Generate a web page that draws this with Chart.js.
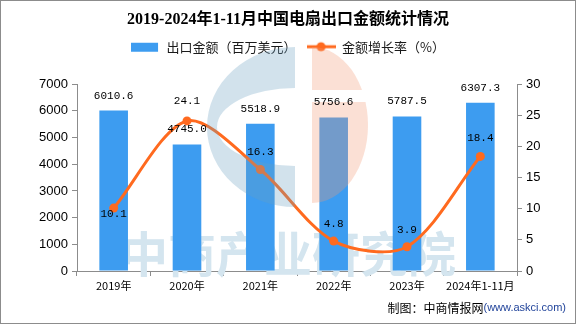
<!DOCTYPE html>
<html>
<head>
<meta charset="utf-8">
<script src="https://cdn.jsdelivr.net/npm/chart.js@4.4.1/dist/chart.umd.min.js"></script>
<style>
  html, body { margin: 0; padding: 0; background: #fff; }
  #wrap { width: 576px; height: 324px; }
</style>
</head>
<body>
<div id="wrap"><canvas id="fanExportChart" width="576" height="324"></canvas></div>
<script>
// 2019-2024年1-11月 电扇出口金额及增长率
const years = ['2019年', '2020年', '2021年', '2022年', '2023年', '2024年1-11月'];
const exportValue = [6010.6, 4745.0, 5518.9, 5756.6, 5787.5, 6307.3];
const growthRate = [10.1, 24.1, 16.3, 4.8, 3.9, 18.4];
const valueTicks = [0, 1000, 2000, 3000, 4000, 5000, 6000, 7000];
const rateTicks = [0, 5, 10, 15, 20, 25, 30];

const BAR_BLUE = '#3d9cf0';
const LINE_ORANGE = '#ff6a1f';
const AXIS_GRAY = '#8c8c8c';
const CJK = "'Noto Sans CJK SC', sans-serif";

// rate labels sit above their points, the first one a little below
const rateLabelShift = [6, -20, -17, -17, -17, -18];

function legendSwatch(kind) {
  const c = document.createElement('canvas');
  c.width = 29;
  c.height = 12;
  const g = c.getContext('2d');
  if (kind === 'bar') {
    g.fillStyle = BAR_BLUE;
    g.fillRect(0, 2, 27, 9);
  } else {
    g.strokeStyle = LINE_ORANGE;
    g.lineWidth = 3;
    g.beginPath();
    g.moveTo(0, 6);
    g.lineTo(29, 6);
    g.stroke();
    g.fillStyle = LINE_ORANGE;
    g.beginPath();
    g.arc(14.5, 6, 4.5, 0, Math.PI * 2);
    g.fill();
  }
  return c;
}
const swatches = [legendSwatch('bar'), legendSwatch('line')];

// leave some room between the legend and the plot
const legendGap = {
  id: 'legendGap',
  beforeInit(chart) {
    const fit = chart.legend.fit;
    chart.legend.fit = function () {
      fit.bind(chart.legend)();
      this.height += 21;
    };
  }
};

// watermark, logo, value labels, source line and frame
const decor = {
  id: 'decor',
  beforeDatasetsDraw(chart) {
    const ctx = chart.ctx;
    ctx.save();
    ctx.fillStyle = '#d4e5ef';
    ctx.font = "bold 48px " + CJK;
    ctx.textAlign = 'center';
    ctx.textBaseline = 'middle';
    ctx.fillText('中商产业研究院', 288, 254);
    ctx.restore();
  },
  afterDatasetsDraw(chart) {
    const ctx = chart.ctx;

    // logo
    ctx.save();
    ctx.globalAlpha = 0.3;
    ctx.fillStyle = '#6a9ec0';
    ctx.beginPath();
    ctx.ellipse(295, 127, 88, 80, 0, Math.PI / 2, Math.PI * 1.5);
    ctx.closePath();
    ctx.ellipse(295, 127, 78, 39, 0, Math.PI * 1.5, Math.PI / 2, true);
    ctx.closePath();
    ctx.fill('evenodd');
    ctx.fillStyle = '#f29873';
    ctx.beginPath();
    ctx.rect(312, 40, 70, 50);
    ctx.rect(312, 102, 70, 110);
    ctx.clip();
    ctx.beginPath();
    ctx.ellipse(312, 125, 56, 78, 0, -Math.PI / 2, Math.PI / 2);
    ctx.closePath();
    ctx.fill();
    ctx.restore();

    ctx.save();
    ctx.fillStyle = '#000';
    ctx.font = "11px 'Liberation Mono', monospace";
    ctx.textAlign = 'center';
    ctx.textBaseline = 'middle';
    chart.getDatasetMeta(0).data.forEach((bar, i) => {
      ctx.fillText(exportValue[i].toFixed(1), bar.x, bar.y - 15);
    });
    chart.getDatasetMeta(1).data.forEach((pt, i) => {
      ctx.fillText(growthRate[i].toFixed(1), pt.x, pt.y + rateLabelShift[i]);
    });
    ctx.restore();
  },
  afterDraw(chart) {
    const ctx = chart.ctx;
    ctx.save();
    ctx.textBaseline = 'middle';
    ctx.textAlign = 'right';
    ctx.font = "11px 'Liberation Sans', sans-serif";
    ctx.fillStyle = '#23459b';
    const url = '(www.askci.com)';
    ctx.fillText(url, 566, 308);
    const w = ctx.measureText(url).width;
    ctx.font = "12px " + CJK;
    ctx.fillStyle = '#000';
    ctx.fillText('制图：中商情报网', 566 - w, 308);

    ctx.strokeStyle = AXIS_GRAY;
    ctx.lineWidth = 1;
    ctx.strokeRect(0.5, 0.5, 575, 323);
    ctx.restore();
  }
};

const tickFont = { family: "'Liberation Sans', sans-serif", size: 13 };

const ctx = document.getElementById('fanExportChart').getContext('2d');
const fanExportChart = new Chart(ctx, {
  data: {
    labels: years,
    datasets: [{
      type: 'bar',
      label: '出口金额（百万美元）',
      data: exportValue,
      backgroundColor: BAR_BLUE,
      yAxisID: 'y',
      barPercentage: 0.39,
      categoryPercentage: 1,
      order: 1
    }, {
      type: 'line',
      label: '金额增长率（%）',
      data: growthRate,
      yAxisID: 'y1',
      borderColor: LINE_ORANGE,
      borderWidth: 3,
      backgroundColor: LINE_ORANGE,
      pointBackgroundColor: LINE_ORANGE,
      pointBorderWidth: 0,
      pointRadius: 4.5,
      tension: 0.3,
      fill: false,
      order: 0
    }]
  },
  options: {
    responsive: false,
    animation: false,
    layout: { padding: 0 },
    plugins: {
      tooltip: { enabled: false },
      title: {
        display: true,
        text: '2019-2024年1-11月中国电扇出口金额统计情况',
        color: '#000',
        font: { family: "'Liberation Serif', " + CJK, size: 16, weight: 'bold' },
        padding: { top: 10, bottom: 1 }
      },
      legend: {
        display: true,
        labels: {
          usePointStyle: true,
          pointStyleWidth: 29,
          color: '#1a1a1a',
          padding: 10,
          font: { family: CJK, size: 13 },
          sort: (a, b) => a.datasetIndex - b.datasetIndex,
          generateLabels(chart) {
            const items = Chart.defaults.plugins.legend.labels.generateLabels(chart);
            items.forEach(it => { it.pointStyle = swatches[it.datasetIndex]; });
            return items;
          }
        }
      }
    },
    scales: {
      x: {
        grid: { display: true, drawOnChartArea: false, drawTicks: true, tickLength: 5, color: AXIS_GRAY, offset: true },
        border: { color: AXIS_GRAY },
        ticks: { color: '#000', font: { family: CJK, size: 11 }, padding: 3, maxRotation: 0, autoSkip: false },
        afterFit: s => { s.height = 53; }
      },
      y: {
        position: 'left',
        min: 0,
        max: 7000,
        afterBuildTicks: s => { s.ticks = valueTicks.map(v => ({ value: v })); },
        grid: { drawOnChartArea: false, tickLength: 5, color: AXIS_GRAY },
        border: { color: AXIS_GRAY },
        ticks: { color: '#000', font: tickFont, padding: 4, callback: v => String(v) },
        afterFit: s => { s.width = 77; }
      },
      y1: {
        position: 'right',
        min: 0,
        max: 30,
        afterBuildTicks: s => { s.ticks = rateTicks.map(v => ({ value: v })); },
        grid: { drawOnChartArea: false, tickLength: 5, color: AXIS_GRAY },
        border: { color: AXIS_GRAY },
        ticks: { color: '#000', font: tickFont, padding: 4, callback: v => String(v) },
        afterFit: s => { s.width = 59; }
      }
    }
  },
  plugins: [legendGap, decor]
});
</script>
</body>
</html>
